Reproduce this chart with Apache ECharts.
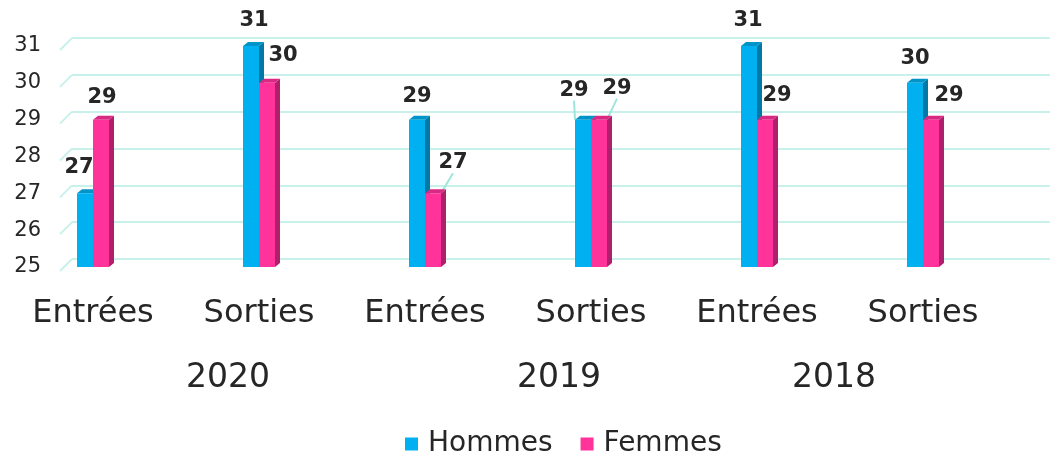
<!DOCTYPE html>
<html>
<head>
<meta charset="utf-8">
<script src="https://cdn.jsdelivr.net/npm/echarts@6/dist/echarts.min.js"></script>
<style>
  html, body { margin: 0; padding: 0; background: #ffffff; }
  #chart { width: 1061px; height: 459px; }
</style>
</head>
<body>
<div id="chart"></div>
<script>
// Categories and values
const categories = ['Entrées', 'Sorties', 'Entrées', 'Sorties', 'Entrées', 'Sorties'];
const years = ['2020', '2019', '2018'];
const hommes = [27, 31, 29, 29, 31, 30];
const femmes = [29, 30, 27, 29, 29, 29];
const yTicks = [25, 26, 27, 28, 29, 30, 31];

// Label nudges (dx, dy) relative to the default "top" label spot
const hommesLabelShift = [[-6, -10], [3, -10], [0, -8], [-9, -14], [-1, -10], [0, -9]];
const femmesLabelShift = [[1, -7], [16, -12], [20, -15], [18, -16], [12, -9], [18, -9]];
const hommesLeader = [false, false, false, true, false, false];
const femmesLeader = [false, false, true, true, false, false];

const FONT = 'DejaVu Sans';
const TEXT = '#262626';
const GRID_COLOR = '#c8f1eb';
const LEADER_COLOR = '#9ee6dc';
const BAR_W = 16;
const DEPTH_X = 5, DEPTH_Y = 4;

const palette = {
  Hommes: { front: '#00b0f0', side: '#0079a6', top: '#0094c9' },
  Femmes: { front: '#ff3399', side: '#b01f6c', top: '#d92a83' }
};

function depthRenderer(name, leftSide) {
  const c = palette[name];
  return function (params, api) {
    const i = api.value(0), v = api.value(1);
    const top = api.coord([i, v]);
    const base = api.coord([i, yTicks[0]]);
    const left = leftSide ? top[0] - BAR_W : top[0];
    const right = left + BAR_W;
    return {
      type: 'group',
      children: [
        {
          type: 'polygon',
          shape: { points: [[right, top[1]], [right + DEPTH_X, top[1] - DEPTH_Y], [right + DEPTH_X, base[1] - DEPTH_Y], [right, base[1]]] },
          style: { fill: c.side }
        },
        {
          type: 'polygon',
          shape: { points: [[left, top[1]], [left + DEPTH_X, top[1] - DEPTH_Y], [right + DEPTH_X, top[1] - DEPTH_Y], [right, top[1]]] },
          style: { fill: c.top }
        }
      ]
    };
  };
}

function barData(values, leaders) {
  return values.map((v, i) => ({
    value: v,
    labelLine: { show: leaders[i], lineStyle: { color: LEADER_COLOR, width: 2 } }
  }));
}

function shiftLayout(shifts) {
  return function (params) {
    const s = shifts[params.dataIndex];
    return { dx: s[0], dy: s[1] };
  };
}

const labelStyle = {
  show: true,
  position: 'top',
  distance: 5,
  fontFamily: FONT,
  fontWeight: 'bold',
  fontSize: 21,
  color: TEXT
};

const chart = echarts.init(document.getElementById('chart'), null, { renderer: 'canvas' });

chart.setOption({
  backgroundColor: '#ffffff',
  animation: false,
  grid: [
    { left: 10, right: 55, top: 46, height: 221 },
    { left: 72, right: 11, top: 38, height: 221 }
  ],
  xAxis: [
    {
      type: 'category',
      gridIndex: 0,
      data: categories,
      axisLine: { show: false },
      axisTick: { show: false },
      axisLabel: { fontFamily: FONT, fontSize: 32, color: TEXT, margin: 31 }
    },
    { type: 'value', gridIndex: 1, min: 0, max: 1, show: false }
  ],
  yAxis: [
    {
      type: 'value',
      gridIndex: 0,
      min: yTicks[0],
      max: yTicks[yTicks.length - 1],
      interval: 1,
      offset: -32,
      axisLine: { show: false },
      axisTick: { show: false },
      splitLine: { show: false },
      axisLabel: { fontFamily: FONT, fontSize: 21, color: TEXT, margin: 1, padding: [6, 0, 0, 0] }
    },
    {
      type: 'value',
      gridIndex: 1,
      min: yTicks[0],
      max: yTicks[yTicks.length - 1],
      interval: 1,
      axisLine: { show: false },
      axisTick: { show: false },
      axisLabel: { show: false },
      splitLine: { show: true, lineStyle: { color: GRID_COLOR, width: 2 } }
    }
  ],
  legend: {
    data: ['Hommes', 'Femmes'],
    left: 405,
    top: 430,
    padding: 0,
    icon: 'rect',
    itemWidth: 13,
    itemHeight: 13,
    itemGap: 28,
    textStyle: { fontFamily: FONT, fontSize: 28, color: TEXT, padding: [0, 0, 0, 5] }
  },
  graphic: years.map((y, k) => ({
    type: 'text',
    left: [186, 517, 792][k],
    top: 362,
    style: { text: y, fontFamily: FONT, fontSize: 33, fill: TEXT }
  })),
  series: [
    {
      // side-wall edges of the gridlines
      type: 'custom',
      silent: true,
      xAxisIndex: 1,
      yAxisIndex: 1,
      z: 1,
      data: yTicks.map(v => [0, v]),
      renderItem: function (params, api) {
        const p = api.coord([0, api.value(1)]);
        return {
          type: 'line',
          shape: { x1: p[0] - 12, y1: p[1] + 12, x2: p[0], y2: p[1] },
          style: { stroke: GRID_COLOR, lineWidth: 2 }
        };
      }
    },
    {
      name: 'Hommes',
      type: 'bar',
      xAxisIndex: 0,
      yAxisIndex: 0,
      barWidth: BAR_W,
      barGap: '0%',
      z: 3,
      itemStyle: { color: palette.Hommes.front },
      data: barData(hommes, hommesLeader),
      label: labelStyle,
      labelLayout: shiftLayout(hommesLabelShift)
    },
    {
      name: 'Hommes',
      type: 'custom',
      xAxisIndex: 0,
      yAxisIndex: 0,
      z: 3,
      silent: true,
      data: hommes.map((v, i) => [i, v]),
      renderItem: depthRenderer('Hommes', true)
    },
    {
      name: 'Femmes',
      type: 'bar',
      xAxisIndex: 0,
      yAxisIndex: 0,
      barWidth: BAR_W,
      barGap: '0%',
      z: 4,
      itemStyle: { color: palette.Femmes.front },
      data: barData(femmes, femmesLeader),
      label: labelStyle,
      labelLayout: shiftLayout(femmesLabelShift)
    },
    {
      name: 'Femmes',
      type: 'custom',
      xAxisIndex: 0,
      yAxisIndex: 0,
      z: 4,
      silent: true,
      data: femmes.map((v, i) => [i, v]),
      renderItem: depthRenderer('Femmes', false)
    }
  ]
});
</script>
</body>
</html>
